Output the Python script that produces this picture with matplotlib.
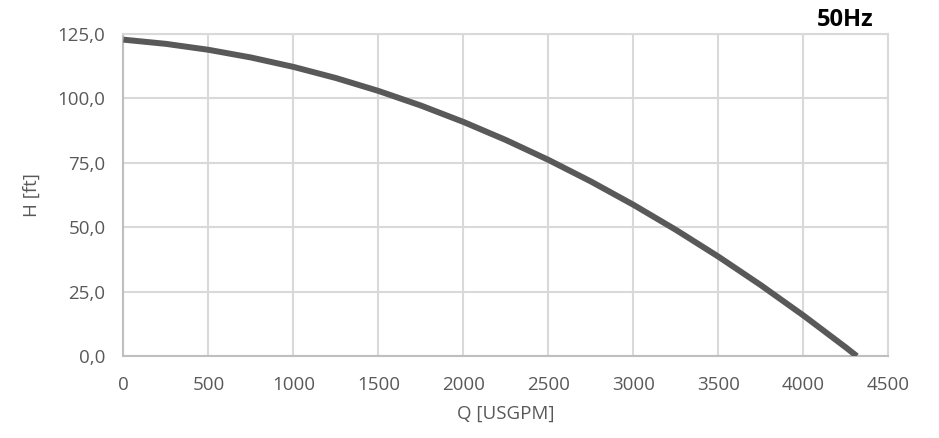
import matplotlib
matplotlib.use("Agg")
import matplotlib.pyplot as plt
from matplotlib.ticker import FuncFormatter

# - Datos (caudal vs altura):

caudal = [0, 250, 500, 750, 1000, 1250, 1500, 1750, 2000, 2250, 2500,
          2750, 3000, 3250, 3500, 3750, 4000, 4250, 4315]
altura = [122.7, 121.07, 118.77, 115.79, 112.14, 107.82, 102.82, 97.15, 90.8, 83.78,
          76.09, 67.72, 58.68, 48.96, 38.58, 27.51, 15.78, 3.37, 0.0]

x_ticks = [0, 500, 1000, 1500, 2000, 2500, 3000, 3500, 4000, 4500]
y_ticks = [0, 25, 50, 75, 100, 125]

# - Estilo:

plt.rcParams['font.family'] = ['Open Sans', 'DejaVu Sans']
gris_texto = '#595959'
gris_rejilla = '#d9d9d9'

fig = plt.figure(figsize=(9.39, 4.38), dpi=100)
ax = fig.add_axes([0.1315, 0.187, 0.8145, 0.736])

ax.plot(caudal, altura, color='#595959', linewidth=4.3, solid_capstyle='butt',
        solid_joinstyle='round', zorder=3)

ax.set_xlim(0, 4500)
ax.set_ylim(0, 125)
ax.set_xticks(x_ticks)
ax.set_yticks(y_ticks)
ax.yaxis.set_major_formatter(FuncFormatter(lambda v, p: f"{v:.1f}".replace('.', ',')))

ax.grid(True, color=gris_rejilla, linewidth=1.5, zorder=0)
ax.set_axisbelow(True)

for lado in ['top', 'right']:
    ax.spines[lado].set_color(gris_rejilla)
    ax.spines[lado].set_linewidth(1.5)
for lado in ['left', 'bottom']:
    ax.spines[lado].set_color('#bfbfbf')
    ax.spines[lado].set_linewidth(1.5)

ax.tick_params(length=0, labelsize=13.5, labelcolor=gris_texto)
ax.tick_params(axis='y', pad=13)
ax.tick_params(axis='x', pad=14)

ax.set_xlabel("Q [USGPM]", fontsize=13.5, color=gris_texto, labelpad=8)
ax.set_ylabel("H [ft]", fontsize=13.5, color=gris_texto, labelpad=12)

fig.text(0.9, 0.955, "50Hz", fontsize=17, fontweight='bold', color='black',
         ha='center', va='center')

fig.savefig("out.png", dpi=100)
